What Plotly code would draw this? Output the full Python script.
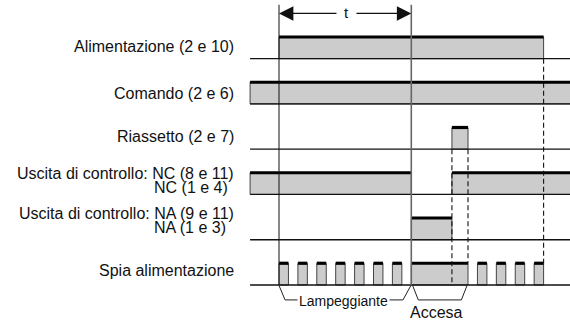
import plotly.graph_objects as go

# ---------------- data (time unit = one blink period of the indicator) ----------------
row_labels = ["Alimentazione (2 e 10)", "Comando (2 e 6)", "Riassetto (2 e 7)",
              "Uscita di controllo: NC (8 e 11)", "Uscita di controllo: NA (9 e 11)",
              "Spia alimentazione"]
row_sublabels = ["", "", "", "NC (1 e 4)", "NA (1 e 3)", ""]

T_LEFT = -1.53     # start of the time lines
T_RIGHT = 16.0     # beyond the right edge
t_delay = 7.0      # time t
reset_on = 9.15
reset_off = 10.0
power_off = 14.0

alimentazione_high = [(0.0, 14.0)]
comando_high = [(T_LEFT, T_RIGHT)]
riassetto_high = [(9.15, 10.0)]
nc_high = [(T_LEFT, 7.0), (9.15, T_RIGHT)]
na_high = [(7.0, 9.15)]
spia_high = [(0.0, 0.5), (1.0, 1.5), (2.0, 2.5), (3.0, 3.5), (4.0, 4.5), (5.0, 5.5),
             (6.0, 6.5), (7.0, 10.0), (10.5, 11.0), (11.5, 12.0), (12.5, 13.0),
             (13.5, 14.0)]
rows_high = [alimentazione_high, comando_high, riassetto_high, nc_high, na_high, spia_high]

lamp_interval = (0.0, 7.0)
accesa_interval = (7.0, 10.0)

# ---------------- styling ----------------
HIGH = 0.48
FILL = "#cccccc"
FONT = "Liberation Sans, Arial, Helvetica, sans-serif"

fig = go.Figure()

def line(xs, ys, color="#111", width=1.2, dash="solid"):
    fig.add_trace(go.Scatter(x=xs, y=ys, mode="lines", hoverinfo="skip",
                             line=dict(color=color, width=width, dash=dash),
                             showlegend=False))

# rows
for i, highs in enumerate(rows_high):
    base = -i
    top = base + HIGH
    for (s, e) in highs:
        fig.add_trace(go.Scatter(x=[s, s, e, e, s], y=[base, top, top, base, base],
                                 mode="lines", fill="toself", fillcolor=FILL,
                                 line=dict(color="#444", width=1), hoverinfo="skip",
                                 showlegend=False))
    line([T_LEFT, T_RIGHT], [base, base], color="#111", width=1.3)
    for (s, e) in highs:
        line([s, e], [top, top], color="#000", width=3.2)

# vertical solid reference lines
line([0.0, 0.0], [1.19, -5], color="#111", width=1)
line([t_delay, t_delay], [1.19, -5], color="#666", width=1.6)

# dashed lines
DASH = "5px,3px"
line([reset_on, reset_on], [-2, -5], color="#111", width=1.1, dash=DASH)
line([reset_off, reset_off], [-2, -5 + HIGH], color="#111", width=1.1, dash=DASH)
line([power_off, power_off], [0, -5 + HIGH], color="#111", width=1.1, dash=DASH)

# brackets under the indicator row
yb0, yb1 = -5.01, -5.33
ls, le = lamp_interval
line([ls, ls + 0.32, le - 0.44, le - 0.02], [yb0, yb1, yb1, yb0], color="#222", width=1)
as_, ae = accesa_interval
line([as_ + 0.07, as_ + 0.37, ae - 0.35, ae - 0.05], [yb0, yb1, yb1, yb0], color="#222", width=1)

annotations = []
# row labels
label_y = [0.26, 0.24, 0.28, 0.46, 0.59, 0.32]
sub_y = [0, 0, 0, 0.16, 0.26, 0]
for i, lab in enumerate(row_labels):
    annotations.append(dict(x=-2.28, y=-i + label_y[i], text=lab, showarrow=False,
                            xanchor="right", yanchor="middle",
                            font=dict(size=16, color="#111", family=FONT)))
    if row_sublabels[i]:
        annotations.append(dict(x=-6.70, y=-i + sub_y[i], text=row_sublabels[i],
                                showarrow=False, xanchor="left", yanchor="middle",
                                font=dict(size=16, color="#111", family=FONT)))

# t arrow
t_mid = (0.0 + t_delay) / 2 + 0.05
for head, tail in [(0.0, t_mid - 0.43), (t_delay, t_mid + 0.47)]:
    annotations.append(dict(x=head, y=1.0, ax=tail, ay=1.0, axref="x", ayref="y",
                            xref="x", yref="y", text="", showarrow=True,
                            arrowhead=2, arrowsize=2.4, arrowwidth=1.2,
                            arrowcolor="#111", standoff=0, startstandoff=0))
annotations.append(dict(x=t_mid, y=1.02, text="t", showarrow=False,
                        font=dict(size=15, color="#111", family=FONT)))

# bracket texts
annotations.append(dict(x=(ls + le) / 2 - 0.07, y=-5.35, text="Lampeggiante", showarrow=False,
                        bgcolor="white", borderpad=1,
                        font=dict(size=14, color="#111", family=FONT)))
annotations.append(dict(x=(as_ + ae) / 2 - 0.19, y=-5.60, text="Accesa", showarrow=False,
                        font=dict(size=16, color="#111", family=FONT)))

fig.update_layout(
    width=570, height=323, margin=dict(l=0, r=0, t=0, b=0),
    paper_bgcolor="white", plot_bgcolor="white",
    xaxis=dict(range=[-14.762, 15.397], visible=False, fixedrange=True),
    yaxis=dict(range=[-5.840, 1.297], visible=False, fixedrange=True),
    annotations=annotations, showlegend=False,
)

fig.write_html("out.html", config={"displayModeBar": False},
               post_script="document.body.style.margin='0px';document.body.style.padding='0px';document.body.style.overflow='hidden';")
